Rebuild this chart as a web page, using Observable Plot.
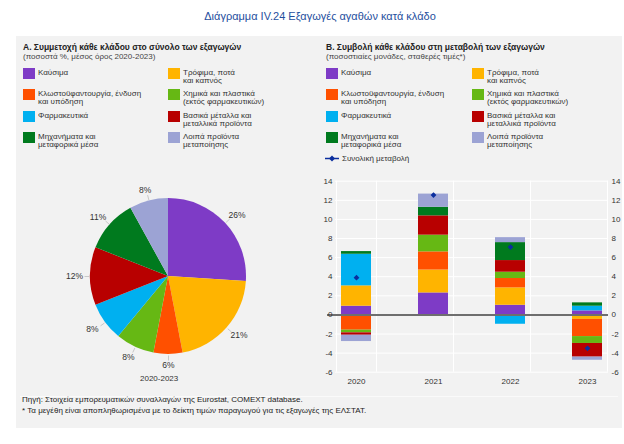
<!DOCTYPE html>
<html><head><meta charset="utf-8">
<script src="https://cdn.jsdelivr.net/npm/d3@7"></script>
<script src="https://cdn.jsdelivr.net/npm/@observablehq/plot@0.6"></script>
<style>
body{margin:0;background:#fff;font-family:"Liberation Sans",Arial,sans-serif;color:#333;}
#root{position:relative;width:624px;height:444px;overflow:hidden}
.abs{position:absolute}
#title{top:10px;left:8px;width:624px;text-align:center;font-size:11px;color:#1f4f9e}
#panel{left:16px;top:36px;width:606px;height:392px;background:#f2f2f2}
.ptitle{font-weight:bold;font-size:8.5px;color:#222;white-space:nowrap}
.psub{font-size:8px;color:#444;white-space:nowrap}
.sw{position:absolute;width:12px;height:11px}
.lt{position:absolute;font-size:8px;line-height:8px;color:#333;white-space:pre}
.foot{font-size:8px;line-height:10.5px;color:#222;white-space:nowrap}
svg{overflow:visible}
</style></head><body><div id="root">
<div id="title" class="abs">Διάγραμμα IV.24 Εξαγωγές αγαθών κατά κλάδο</div>
<div id="panel" class="abs"></div>
<div class="abs ptitle" style="left:23px;top:42px">Α. Συμμετοχή κάθε κλάδου στο σύνολο των εξαγωγών</div>
<div class="abs psub" style="left:23px;top:52px">(ποσοστά %, μέσος όρος 2020-2023)</div>
<div class="abs ptitle" style="left:326px;top:42px">Β. Συμβολή κάθε κλάδου στη μεταβολή των εξαγωγών</div>
<div class="abs psub" style="left:326px;top:52px">(ποσοστιαίες μονάδες, σταθερές τιμές*)</div>
<div id="legA" class="abs" style="left:0;top:0"></div>
<div id="legB" class="abs" style="left:0;top:0"></div>
<div id="pie" class="abs" style="left:20px;top:168px"></div>
<div id="pieCap" class="abs psub" style="left:140px;top:374px;color:#333"></div>
<div id="bars" class="abs" style="left:316px;top:168px"></div>
<div class="abs" style="left:20px;top:396px;width:598px;height:1px;background:#fafafa"></div>
<div class="abs foot" style="left:22px;top:395px">Πηγή: Στοιχεία εμπορευματικών συναλλαγών της Eurostat, COMEXT database.<br>* Τα μεγέθη είναι αποπληθωρισμένα με το δείκτη τιμών παραγωγού για τις εξαγωγές της ΕΛΣΤΑΤ.</div>
</div>
<script>
const sectors = ["Καύσιμα","Τρόφιμα, ποτά και καπνός","Κλωστοϋφαντουργία, ένδυση και υπόδηση","Χημικά και πλαστικά (εκτός φαρμακευτικών)","Φαρμακευτικά","Βασικά μέταλλα και μεταλλικά προϊόντα","Μηχανήματα και μεταφορικά μέσα","Λοιπά προϊόντα μεταποίησης"];
const legendLabels = ["Καύσιμα","Τρόφιμα, ποτά\nκαι καπνός","Κλωστοϋφαντουργία, ένδυση\nκαι υπόδηση","Χημικά και πλαστικά\n(εκτός φαρμακευτικών)","Φαρμακευτικά","Βασικά μέταλλα και\nμεταλλικά προϊόντα","Μηχανήματα και\nμεταφορικά μέσα","Λοιπά προϊόντα\nμεταποίησης"];
const colors = ["#7e3bc6","#ffb400","#ff5000","#66b814","#00b0f0","#b80000","#007a1e","#9ca3d4"];
const shares = [26,21,6,8,8,12,11,8];
const pieTitle = "2020-2023";
const years = ["2020","2021","2022","2023"];
const fuel      = [0.91, 2.30, 1.01, 0.42];
const food      = [2.13, 2.40, 1.82, -0.47];
const textile   = [-1.60, 1.90, 0.98, -1.80];
const chemicals = [-0.28, 1.75, 0.66, -0.72];
const pharma    = [3.31, 0.00, -0.98, 0.49];
const metals    = [-0.25, 2.02, 1.22, -1.43];
const machinery = [0.28, 0.90, 1.88, 0.35];
const other     = [-0.66, 1.38, 0.52, -0.33];
const total     = [3.9, 12.55, 7.1, -3.5];
const totalLabel = "Συνολική μεταβολή";
const yTicks = [-6,-4,-2,0,2,4,6,8,10,12,14];

const series = [fuel, food, textile, chemicals, pharma, metals, machinery, other];
const colorOf = new Map(sectors.map((s,i)=>[s,colors[i]]));
document.getElementById("pieCap").textContent = pieTitle;

// Legends
function buildLegend(el, x0, x1) {
  const rows = [68, 89, 111, 132];
  let html = "";
  sectors.forEach((s,i)=>{
    const r = rows[Math.floor(i/2)];
    const x = i%2===0 ? x0 : x1;
    html += `<div class="sw" style="left:${x}px;top:${r}px;background:${colors[i]}"></div>`;
    html += `<div class="lt" style="left:${x+15}px;top:${r+1}px">${legendLabels[i]}</div>`;
  });
  el.innerHTML += html;
}
buildLegend(document.getElementById("legA"), 23, 168);
buildLegend(document.getElementById("legB"), 326, 472);
document.getElementById("legB").innerHTML += `<svg class="abs" style="position:absolute;left:325px;top:154px" width="14" height="9"><line x1="0" x2="14" y1="4.5" y2="4.5" stroke="#0b2e9e" stroke-width="1.5"/><path d="M7,1.5 L10,4.5 L7,7.5 L4,4.5Z" fill="#0b2e9e"/></svg><div class="lt" style="left:342px;top:155px">${totalLabel}</div>`;

// Pie
const R = 78, cx = 148, cy = 108;
const pieRows = sectors.map((s,i)=>({sector:s, share:shares[i]}));
const arcs = d3.pie().sort(null).value(d=>d.share)(pieRows);
const arcGen = d3.arc().innerRadius(0).outerRadius(R);
const labels = arcs.map(a=>{
  const m = (a.startAngle + a.endAngle)/2;
  const s = Math.sin(m), c = -Math.cos(m);
  return {x1: cx + s*(R+1), y1: cy + c*(R+1), x2: cx + s*(R+6), y2: cy + c*(R+6),
          x: cx + s*(R+16), y: cy + c*(R+11), text: a.data.share + "%"};
});
const pie = Plot.plot({
  width: 300, height: 210, margin: 0,
  x: {type: "identity", axis: null}, y: {type: "identity", axis: null},
  style: {background: "transparent", fontFamily: "Liberation Sans, Arial, sans-serif", fontSize: "8.5px", color: "#333"},
  marks: [
    () => {
      const g = d3.create("svg:g").attr("transform", `translate(${cx},${cy})`);
      g.selectAll("path").data(arcs).join("path").attr("d", arcGen).attr("fill", d=>colorOf.get(d.data.sector));
      return g.node();
    },
    Plot.link(labels, {x1:"x1", y1:"y1", x2:"x2", y2:"y2", stroke:"#c8c8c8", strokeWidth:1}),
    Plot.text(labels, {x:"x", y:"y", text:"text", fill:"#333", fontSize: 8.5})
  ]
});
document.getElementById("pie").append(pie);

// Bars
const rows = [];
years.forEach((y,j)=>sectors.forEach((s,i)=>rows.push({year:y, sector:s, value:series[i][j]})));
const totRows = years.map((y,j)=>({year:y, total: total[j]}));
const bars = Plot.plot({
  width: 308, height: 222,
  marginTop: 12.7, marginBottom: 18.3, marginLeft: 19, marginRight: 16,
  style: {background: "transparent", fontFamily: "Liberation Sans, Arial, sans-serif", fontSize: "8px", color: "#333"},
  x: {domain: years, paddingInner: 0.615, paddingOuter: 0.058, axis: null, label: null},
  y: {domain: [-6, 14], axis: null, label: null},
  color: {domain: sectors, range: colors},
  marks: [
    Plot.gridY(yTicks, {stroke: "white", strokeOpacity: 1, strokeWidth: 1}),
    Plot.ruleX(years, {x: d=>d, dx: 20, stroke: "white", strokeWidth: 1}),
    Plot.ruleX([years[0]], {x: d=>d, dx: -20, stroke: "white", strokeWidth: 1}),
    Plot.barY(rows, {x: "year", y: "value", fill: "sector", order: null}),
    Plot.ruleY([0], {stroke: "#6e6e6e", strokeWidth: 2, insetLeft: -8}),
    Plot.dot(totRows, {x: "year", y: "total", symbol: "diamond2", fill: "#0b2e9e", r: 2.6}),
    Plot.axisY(yTicks, {anchor: "left", tickSize: 0, tickPadding: 3, tickFormat: d=>d, label: null}),
    Plot.axisY(yTicks, {anchor: "right", tickSize: 0, tickPadding: 3, tickFormat: d=>d, label: null}),
    Plot.axisX(years, {tickSize: 0, tickPadding: 6, label: null})
  ]
});
document.getElementById("bars").append(bars);
</script>
</body></html>
